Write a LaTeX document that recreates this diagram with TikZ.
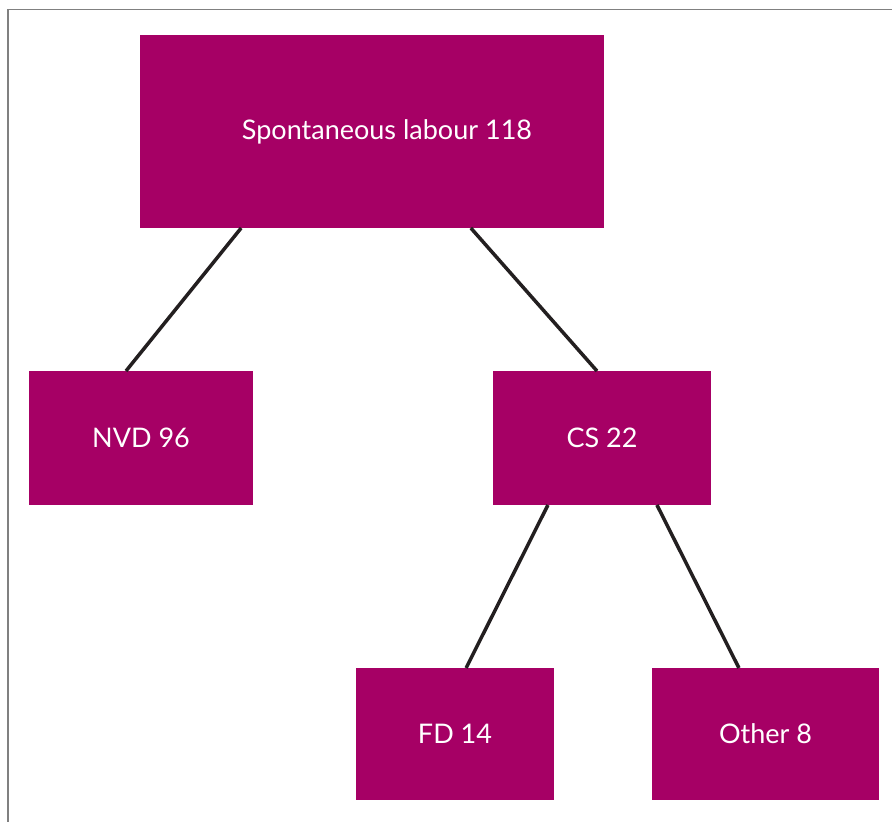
\documentclass[tikz,border=0pt]{standalone}
\usepackage{fontspec}
\setmainfont{Lato}
\usetikzlibrary{positioning,calc}
\definecolor{plum}{RGB}{166,0,101}
\definecolor{linkgray}{RGB}{35,31,32}

\begin{document}
\begin{tikzpicture}[x=1pt,y=-1pt,every node/.style={block},
				block/.style={fill=plum,text=white,inner sep=0pt,outer sep=0pt,font=\fontsize{27}{32}\selectfont},
				link/.style={draw=linkgray,line width=3.5pt}]
				\useasboundingbox (0,0) rectangle (892,822);
				\draw[line width=1.8pt,draw=gray] (8,822) -- (8,9.5) -- (892,9.5);
				\node (SL)    [minimum width=464pt,minimum height=193pt] at (372,131.5) {\hspace{30pt}Spontaneous labour 118};
				\node (NVD)   [minimum width=224pt,minimum height=134pt] at (141,438)   {NVD 96};
				\node (CS)    [minimum width=218pt,minimum height=134pt] at (602,438)   {CS 22};
				\node (FD)    [minimum width=198pt,minimum height=132pt] at (455,734)   {FD 14};
				\node (OTHER) [minimum width=227pt,minimum height=132pt] at (765.5,734) {Other 8};
				
				\draw[link] ($(SL.south west)!0.218!(SL.south east)$) -- ($(NVD.north west)!0.433!(NVD.north east)$);
				\draw[link] ($(SL.south west)!0.713!(SL.south east)$) -- ($(CS.north west)!0.477!(CS.north east)$);
				\draw[link] ($(CS.south west)!0.252!(CS.south east)$) -- ($(FD.north west)!0.556!(FD.north east)$);
				\draw[link] ($(CS.south west)!0.752!(CS.south east)$) -- ($(OTHER.north west)!0.383!(OTHER.north east)$);
			\end{tikzpicture}
\end{document}
